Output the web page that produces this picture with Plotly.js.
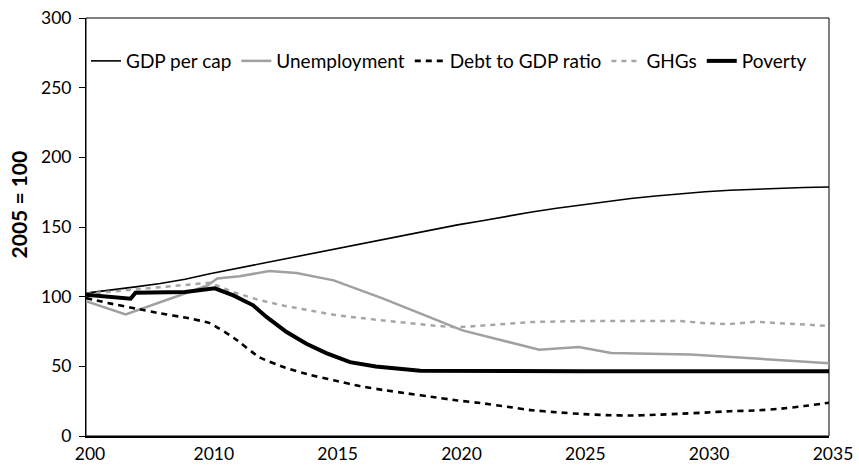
<!DOCTYPE html>
<html>
<head>
<meta charset="utf-8">
<script src="https://cdn.plot.ly/plotly-3.0.1.min.js"></script>
<style>
  html, body { margin: 0; padding: 0; background: #fff; }
  #chart { width: 859px; height: 466px; }
</style>
</head>
<body>
<div id="chart"></div>
<script>
// values (2005 = 100)
var years = [2005, 2006, 2007, 2008, 2009, 2010, 2011, 2012, 2013, 2014, 2015,
             2016, 2017, 2018, 2019, 2020, 2021, 2022, 2023, 2024, 2025,
             2026, 2027, 2028, 2029, 2030, 2031, 2032, 2033, 2034, 2035];

var gdpPerCap = [102.5, 104.5, 107, 109.5, 112.5, 116.5, 120, 123.7, 127.3, 130.9, 134.5,
                 138, 141.5, 144.8, 148, 151.5, 154.5, 157.8, 160.8, 163.5, 166,
                 168.5, 170.5, 172.3, 174, 175.3, 176.4, 177.2, 177.9, 178.4, 178.7];

var debtToGdp = [99, 95, 91.5, 88, 85, 81, 70, 56.5, 49.3, 44, 40,
                 36, 33, 30.5, 28, 25.5, 23.5, 21, 18.5, 17, 15.8,
                 15, 14.7, 15.2, 16, 16.8, 17.8, 18.3, 19.5, 21.5, 23.9];

var ghgs = [102, 103.5, 105, 106.5, 108, 110, 103, 97.5, 93.5, 90, 87,
            84.8, 82.8, 80.8, 79.3, 78, 79, 80.5, 81.8, 82.3, 82.5,
            82.5, 82.5, 82.5, 82.5, 81, 80.3, 82, 81, 79.5, 79];

// unemployment and poverty have kinks between the years
var unempYears = [2005, 2006.6, 2009.9, 2010.3, 2011.2, 2012.4, 2013.5, 2015, 2017,
                  2018.5, 2020.2, 2023.3, 2024.9, 2026.2, 2029.4, 2035];
var unemployment = [96.8, 87.3, 108, 113, 114.6, 118.4, 117, 111.7, 98.6,
                    87.8, 75.8, 61.9, 63.8, 59.5, 58.5, 52.3];

var povYears = [2005, 2006.8, 2007, 2009, 2010.2, 2010.95, 2011.75, 2012.3, 2013.1, 2013.9,
                2014.7, 2015.66, 2016.7, 2017.95, 2018.5, 2025, 2030, 2035];
var poverty = [101.4, 98.5, 102.9, 103.3, 106, 100.9, 93.8, 85.3, 74.6, 66.2,
               59.5, 53, 49.9, 47.8, 46.8, 46.5, 46.5, 46.5];

var tickYears = [2005, 2010, 2015, 2020, 2025, 2030, 2035];
var tickText = ['200', '2010', '2015', '2020', '2025', '2030', '2035'];

var fontFam = 'Lato, "Open Sans", sans-serif';

var trace1 = {
  x: years, y: gdpPerCap, type: 'scatter', mode: 'lines',
  name: 'GDP per cap',
  line: {color: '#000000', width: 1.6}
};
var trace2 = {
  x: unempYears, y: unemployment, type: 'scatter', mode: 'lines',
  name: 'Unemployment',
  line: {color: '#a0a0a0', width: 2.5}
};
var trace3 = {
  x: years, y: debtToGdp, type: 'scatter', mode: 'lines',
  name: 'Debt to GDP ratio',
  line: {color: '#000000', width: 2.6, dash: '6px,5px', shape: 'spline', smoothing: 0.4}
};
var trace4 = {
  x: years, y: ghgs, type: 'scatter', mode: 'lines',
  name: 'GHGs',
  line: {color: '#a6a6a6', width: 2.5, dash: '5px,5px'}
};
var trace5 = {
  x: povYears, y: poverty, type: 'scatter', mode: 'lines',
  name: 'Poverty',
  line: {color: '#000000', width: 4}
};

var layout = {
  width: 859,
  height: 466,
  margin: {l: 86, r: 30, t: 18, b: 30, pad: 0},
  paper_bgcolor: '#ffffff',
  plot_bgcolor: '#ffffff',
  font: {family: fontFam, color: '#000000', size: 17},
  showlegend: true,
  legend: {
    orientation: 'h',
    x: 0, xanchor: 'left',
    y: 0.9425, yanchor: 'top',
    bgcolor: 'rgba(0,0,0,0)',
    font: {family: fontFam, size: 19, color: '#000000'},
    itemwidth: 30,
    traceorder: 'normal'
  },
  xaxis: {
    range: [2005, 2035],
    tickvals: tickYears,
    ticktext: tickText,
    ticks: '',
    showgrid: false,
    zeroline: false,
    showline: true,
    linecolor: '#000000',
    linewidth: 2,
    tickfont: {family: fontFam, size: 17.5, color: '#000000'},
    ticklabelstandoff: 1,
    ticklabelshift: 4
  },
  yaxis: {
    range: [0, 300],
    tickvals: [0, 50, 100, 150, 200, 250, 300],
    ticks: 'outside',
    ticklen: 6,
    tickwidth: 1,
    tickcolor: '#000000',
    showgrid: false,
    zeroline: false,
    showline: true,
    linecolor: '#000000',
    linewidth: 1,
    tickfont: {family: fontFam, size: 17.5, color: '#000000'},
    ticklabelstandoff: 4
  },
  annotations: [{
    text: '<b>2005 = 100</b>',
    xref: 'paper', yref: 'paper',
    x: -0.0915, y: 0.554,
    xanchor: 'center', yanchor: 'middle',
    textangle: -90,
    showarrow: false,
    font: {family: fontFam, size: 21, color: '#000000'}
  }],
  shapes: [{
    type: 'rect', xref: 'paper', yref: 'paper',
    x0: 0, x1: 1, y0: 0, y1: 1,
    line: {color: '#000000', width: 1},
    fillcolor: 'rgba(0,0,0,0)',
    layer: 'below'
  }]
};

var pdata = [trace1, trace2, trace3, trace4, trace5];
Plotly.newPlot('chart', pdata, layout, {staticPlot: true, displayModeBar: false});
</script>
</body>
</html>
